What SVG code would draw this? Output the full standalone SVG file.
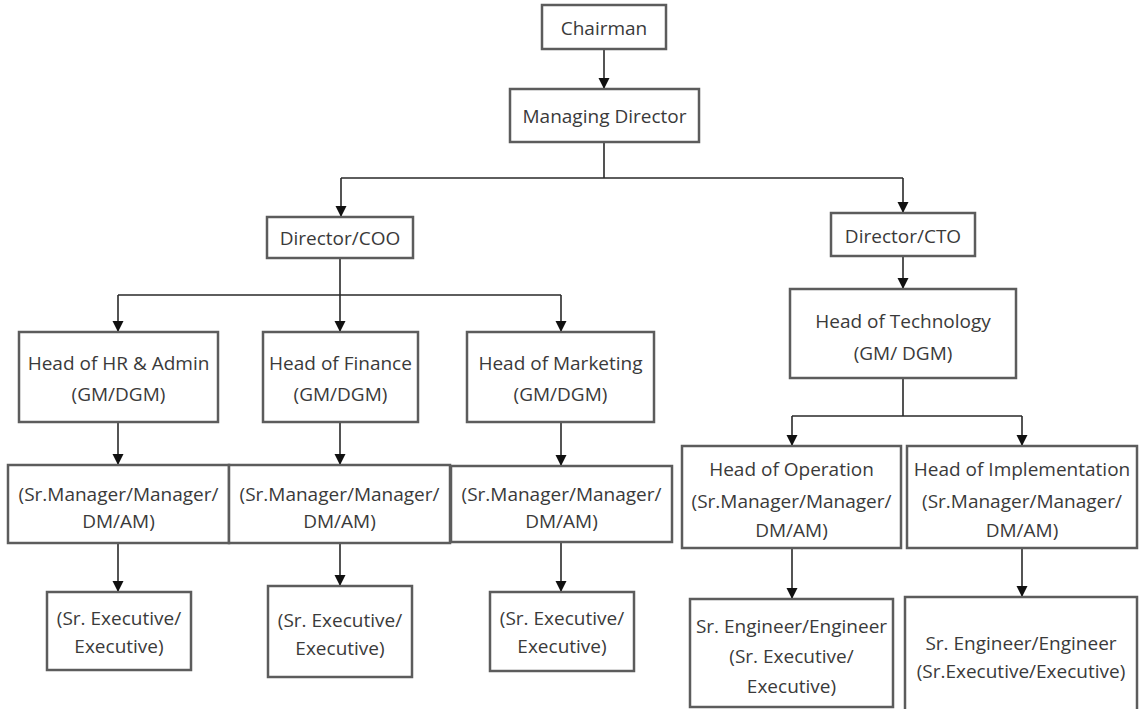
<svg xmlns="http://www.w3.org/2000/svg" width="1139" height="709" viewBox="0 0 1139 709">
<style>
.box{fill:#fff;stroke:#5c5c5c;stroke-width:2.5}
.t{font-family:"Open Sans","Liberation Sans",sans-serif;font-size:19px;fill:#3a3a3a;text-anchor:middle}
.c{fill:none;stroke:#2a2a2a;stroke-width:1.6}
</style>
<defs>
<marker id="ah" markerUnits="userSpaceOnUse" markerWidth="12" markerHeight="12" viewBox="0 0 12 12" refX="6" refY="11" orient="auto-start-reverse">
<path d="M1,0 L11,0 L6,11 Z" fill="#111" transform="rotate(-90 6 6)"/>
</marker>
<marker id="ad" markerUnits="userSpaceOnUse" markerWidth="12" markerHeight="12" viewBox="0 0 12 12" refX="6" refY="11" orient="0">
<path d="M0.5,0 L11.5,0 L6,11 Z" fill="#111"/>
</marker>
</defs>
<g id="connectors">
<path class="c" d="M604,49 V89" marker-end="url(#ad)"/>
<path class="c" d="M604,142 V178 M341,178 H903"/>
<path class="c" d="M341,178 V217" marker-end="url(#ad)"/>
<path class="c" d="M903,178 V213" marker-end="url(#ad)"/>
<path class="c" d="M340,258 V295 M118,295 H561"/>
<path class="c" d="M118,295 V332" marker-end="url(#ad)"/>
<path class="c" d="M340,295 V332" marker-end="url(#ad)"/>
<path class="c" d="M561,295 V332" marker-end="url(#ad)"/>
<path class="c" d="M118,422 V465" marker-end="url(#ad)"/>
<path class="c" d="M340,422 V465" marker-end="url(#ad)"/>
<path class="c" d="M561,422 V466" marker-end="url(#ad)"/>
<path class="c" d="M118,543 V592" marker-end="url(#ad)"/>
<path class="c" d="M340,543 V586" marker-end="url(#ad)"/>
<path class="c" d="M561,542 V592" marker-end="url(#ad)"/>
<path class="c" d="M903,256 V289" marker-end="url(#ad)"/>
<path class="c" d="M903,378 V416 M792,416 H1022"/>
<path class="c" d="M792,416 V446" marker-end="url(#ad)"/>
<path class="c" d="M1022,416 V446" marker-end="url(#ad)"/>
<path class="c" d="M792,548 V599" marker-end="url(#ad)"/>
<path class="c" d="M1022,548 V597" marker-end="url(#ad)"/>
</g>
<g id="chairman"><rect class="box" x="542" y="5" width="124" height="44"/><text class="t" x="604" y="35">Chairman</text></g>
<g id="md"><rect class="box" x="510" y="89" width="189" height="53"/><text class="t" x="604.5" y="123">Managing Director</text></g>
<g id="coo"><rect class="box" x="267" y="217" width="146" height="41"/><text class="t" x="340" y="245">Director/COO</text></g>
<g id="cto"><rect class="box" x="831" y="213" width="144" height="43"/><text class="t" x="903" y="243">Director/CTO</text></g>
<g id="hr"><rect class="box" x="19" y="332" width="199" height="90"/><text class="t" x="118.5" y="370">Head of HR &amp; Admin</text><text class="t" x="118.5" y="401">(GM/DGM)</text></g>
<g id="finance"><rect class="box" x="263" y="332" width="155" height="90"/><text class="t" x="340.5" y="370">Head of Finance</text><text class="t" x="340.5" y="401">(GM/DGM)</text></g>
<g id="marketing"><rect class="box" x="467" y="332" width="187" height="90"/><text class="t" x="560.5" y="370">Head of Marketing</text><text class="t" x="560.5" y="401">(GM/DGM)</text></g>
<g id="mgr-hr"><rect class="box" x="8" y="465" width="221" height="78"/><text class="t" x="118.5" y="501">(Sr.Manager/Manager/</text><text class="t" x="118.5" y="528">DM/AM)</text></g>
<g id="mgr-fin"><rect class="box" x="229" y="465" width="221" height="78"/><text class="t" x="339.5" y="501">(Sr.Manager/Manager/</text><text class="t" x="339.5" y="528">DM/AM)</text></g>
<g id="mgr-mkt"><rect class="box" x="451" y="466" width="221" height="76"/><text class="t" x="561.5" y="501">(Sr.Manager/Manager/</text><text class="t" x="561.5" y="528">DM/AM)</text></g>
<g id="exec-hr"><rect class="box" x="47" y="592" width="144" height="78"/><text class="t" x="119" y="625">(Sr. Executive/</text><text class="t" x="119" y="653">Executive)</text></g>
<g id="exec-fin"><rect class="box" x="268" y="586" width="144" height="91"/><text class="t" x="340" y="627">(Sr. Executive/</text><text class="t" x="340" y="655">Executive)</text></g>
<g id="exec-mkt"><rect class="box" x="490" y="592" width="144" height="79"/><text class="t" x="562" y="625">(Sr. Executive/</text><text class="t" x="562" y="653">Executive)</text></g>
<g id="tech"><rect class="box" x="790" y="289" width="226" height="89"/><text class="t" x="903" y="328">Head of Technology</text><text class="t" x="903" y="360">(GM/ DGM)</text></g>
<g id="operation"><rect class="box" x="682" y="446" width="219" height="102"/><text class="t" x="791.5" y="476">Head of Operation</text><text class="t" x="791.5" y="508">(Sr.Manager/Manager/</text><text class="t" x="791.5" y="537">DM/AM)</text></g>
<g id="implementation"><rect class="box" x="907" y="446" width="230" height="102"/><text class="t" x="1022" y="476">Head of Implementation</text><text class="t" x="1022" y="508">(Sr.Manager/Manager/</text><text class="t" x="1022" y="537">DM/AM)</text></g>
<g id="eng-op"><rect class="box" x="690" y="599" width="203" height="108"/><text class="t" x="791.5" y="633">Sr. Engineer/Engineer</text><text class="t" x="791.5" y="663">(Sr. Executive/</text><text class="t" x="791.5" y="693">Executive)</text></g>
<g id="eng-impl"><rect class="box" x="905" y="597" width="232" height="116"/><text class="t" x="1021" y="650">Sr. Engineer/Engineer</text><text class="t" x="1021" y="678">(Sr.Executive/Executive)</text></g>
</svg>
